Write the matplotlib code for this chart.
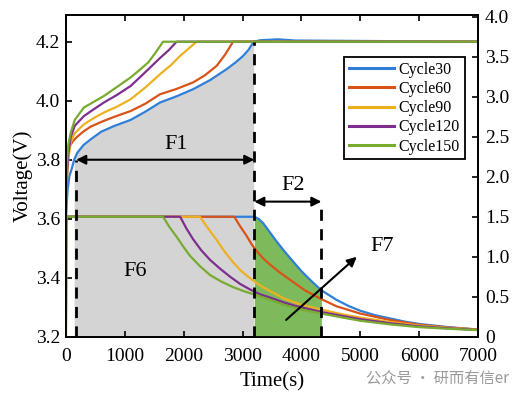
import numpy as np
import matplotlib.pyplot as plt

plt.rcParams['font.family'] = ['Liberation Serif', 'DejaVu Serif']
plt.rcParams['xtick.direction'] = 'in'
plt.rcParams['ytick.direction'] = 'in'

# charge voltage curves (time in s, voltage in V)
t30_v = [0, 10, 30, 60, 100, 140, 192, 300, 420, 600, 815, 1100, 1350, 1600, 1880, 2160, 2450,
         2730, 2870, 3000, 3100, 3190, 3300, 3600, 3900, 7000]
v30 = [3.58, 3.64, 3.70, 3.745, 3.77, 3.80, 3.823, 3.85, 3.869, 3.895, 3.914, 3.935, 3.963, 3.994,
       4.015, 4.039, 4.07, 4.107, 4.128, 4.15, 4.172, 4.2, 4.205, 4.208, 4.204, 4.2]
t60_v = [0, 10, 20, 40, 60, 120, 192, 300, 420, 600, 750, 900, 1100, 1350, 1600, 1880, 2160,
         2360, 2560, 2700, 2840, 7000]
v60 = [3.65, 3.76, 3.80, 3.83, 3.845, 3.863, 3.878, 3.896, 3.912, 3.928, 3.94, 3.951, 3.965, 3.99,
       4.022, 4.04, 4.062, 4.086, 4.118, 4.155, 4.2, 4.2]
t90_v = [0, 15, 40, 80, 150, 306, 480, 646, 870, 1100, 1350, 1600, 1780, 1940, 2080, 2220, 7000]
v90 = [3.62, 3.72, 3.80, 3.857, 3.89, 3.92, 3.942, 3.96, 3.98, 4.005, 4.045, 4.09, 4.12, 4.152,
       4.176, 4.2, 4.2]
t120_v = [0, 15, 40, 80, 150, 306, 480, 646, 870, 1100, 1350, 1600, 1750, 1880, 7000]
v120 = [3.62, 3.74, 3.82, 3.875, 3.915, 3.948, 3.972, 3.994, 4.02, 4.05, 4.097, 4.145, 4.172,
        4.2, 4.2]
t150_v = [0, 15, 40, 80, 150, 306, 480, 646, 870, 1100, 1250, 1400, 1530, 1650, 7000]
v150 = [3.62, 3.78, 3.85, 3.89, 3.935, 3.977, 3.997, 4.016, 4.047, 4.079, 4.104, 4.13, 4.165,
        4.2, 4.2]

# charge current curves (A)
t30_i = [0, 5, 3200, 3280, 3350, 3460, 3580, 3720, 3860, 4000, 4150, 4340, 4600, 4800, 5000,
         5250, 5500, 5750, 6000, 6500, 7000]
i30 = [0, 1.5, 1.5, 1.47, 1.42, 1.31, 1.19, 1.06, 0.94, 0.82, 0.71, 0.58, 0.46, 0.385, 0.325,
       0.27, 0.23, 0.19, 0.16, 0.12, 0.09]
t60_i = [0, 5, 2860, 2960, 3070, 3160, 3240, 3350, 3470, 3640, 3810, 4060, 4340, 4600, 5000,
         5500, 6000, 6500, 7000]
i60 = [0, 1.5, 1.5, 1.38, 1.26, 1.15, 1.07, 0.98, 0.9, 0.8, 0.71, 0.58, 0.47, 0.38, 0.29, 0.21,
       0.15, 0.115, 0.09]
t90_i = [0, 5, 2275, 2420, 2560, 2700, 2840, 2980, 3130, 3300, 3470, 3700, 4000, 4340, 4700,
         5000, 5500, 6000, 6500, 7000]
i90 = [0, 1.5, 1.5, 1.35, 1.21, 1.06, 0.93, 0.82, 0.73, 0.64, 0.57, 0.48, 0.40, 0.34, 0.28,
       0.24, 0.185, 0.14, 0.11, 0.09]
t120_i = [0, 5, 1940, 2050, 2160, 2300, 2450, 2620, 2790, 2960, 3130, 3300, 3470, 3700, 3900,
          4340, 4700, 5000, 5500, 6000, 6500, 7000]
i120 = [0, 1.5, 1.5, 1.35, 1.22, 1.08, 0.96, 0.85, 0.75, 0.66, 0.59, 0.53, 0.49, 0.43, 0.385,
        0.31, 0.26, 0.22, 0.17, 0.13, 0.105, 0.085]
t150_i = [0, 5, 1650, 1760, 1880, 2000, 2110, 2280, 2450, 2640, 2840, 3040, 3240, 3470, 3700,
          4000, 4340, 4700, 5000, 5500, 6000, 6500, 7000]
i150 = [0, 1.5, 1.5, 1.37, 1.25, 1.12, 1.01, 0.88, 0.77, 0.69, 0.62, 0.565, 0.52, 0.46, 0.40,
        0.34, 0.29, 0.24, 0.20, 0.155, 0.12, 0.1, 0.082]

labels = ['Cycle30', 'Cycle60', 'Cycle90', 'Cycle120', 'Cycle150']
colors = ['#2F7ED8', '#D95319', '#EDB120', '#7E2F8E', '#77AC30']

volt = [(t30_v, v30), (t60_v, v60), (t90_v, v90), (t120_v, v120), (t150_v, v150)]
curr = [(t30_i, i30), (t60_i, i60), (t90_i, i90), (t120_i, i120), (t150_i, i150)]

fig = plt.figure(figsize=(5.23, 3.99), dpi=100)
ax = fig.add_axes([0.126, 0.156, 0.788, 0.806])
ax2 = ax.twinx()

# shaded areas
tb = np.array(t30_v)
vb = np.array(v30)
m = (tb >= 140) & (tb <= 3190)
ax.fill_between(tb[m], 3.2, vb[m], color='#d4d4d4', lw=0, zorder=0)
tbi = np.array(t30_i)
ib = np.array(i30)
m2 = (tbi >= 3200) & (tbi <= 4340)
ax2.fill_between(tbi[m2], 0, ib[m2], color='#7dba5c', lw=0, zorder=0)

for (t, v), c, lab in zip(volt, colors, labels):
    ax.plot(t, v, color=c, lw=1.6, label=lab)
for (t, i), c in zip(curr, colors):
    ax2.plot(t, i, color=c, lw=1.6)

# dashed lines / arrows / labels
dk = dict(color='k', lw=2, ls=(0, (4, 3)), transform=ax.transData)
ax2.plot([175, 175], [3.2, 3.8], **dk)
ax2.plot([3200, 3200], [3.2, 4.2], **dk)
ax2.plot([4340, 4340], [3.2, 3.658], **dk)
ap = dict(arrowstyle='<|-|>', color='k', lw=1.5, mutation_scale=14, shrinkA=0, shrinkB=0)
ax2.annotate('', xy=(3200, 3.8), xytext=(175, 3.8), xycoords=ax.transData, textcoords=ax.transData, arrowprops=ap)
ax2.annotate('', xy=(4340, 3.658), xytext=(3200, 3.658), xycoords=ax.transData, textcoords=ax.transData, arrowprops=ap)
ax2.annotate('', xy=(4940, 3.471), xytext=(3740, 3.257), xycoords=ax.transData, textcoords=ax.transData,
             arrowprops=dict(arrowstyle='-|>', color='k', lw=1.5, mutation_scale=14, shrinkA=0, shrinkB=0))
tk = dict(transform=ax.transData, fontsize=16, ha='center', va='center')
ax2.text(1880, 3.853, 'F1', **tk)
ax2.text(3857, 3.711, 'F2', **tk)
ax2.text(1172, 3.42, 'F6', **tk)
ax2.text(5364, 3.505, 'F7', **tk)

ax.set_xlim(0, 7000)
ax.set_ylim(3.2, 4.29)
ax2.set_ylim(0, 4.02)
ax.set_xticks(np.arange(0, 7001, 1000))
ax.set_yticks([3.2, 3.4, 3.6, 3.8, 4.0, 4.2])
ax.set_yticklabels(['3.2', '3.4', '3.6', '3.8', '4.0', '4.2'])
ax2.set_yticks(np.arange(0, 4.01, 0.5))
ax2.set_yticklabels(['0', '0.5', '1.0', '1.5', '2.0', '2.5', '3.0', '3.5', '4.0'])
ax.tick_params(axis='x', top=True, labelsize=14, length=4, width=1.2, pad=8)
ax.tick_params(axis='y', labelsize=14, length=4, width=1.2, pad=4)
ax2.tick_params(axis='y', labelsize=14, length=4, width=1.2, pad=5)
for a in (ax, ax2):
    for s in a.spines.values():
        s.set_linewidth(1.3)
ax.set_xlabel('Time(s)', fontsize=15, labelpad=5)
ax.set_ylabel('Voltage(V)', fontsize=15, labelpad=2)

leg = ax2.legend(*ax.get_legend_handles_labels(), loc='upper right', bbox_to_anchor=(0.968, 0.87),
                 borderaxespad=0, fontsize=11.5, frameon=True, fancybox=False, edgecolor='k',
                 handlelength=2.8, borderpad=0.3, labelspacing=0.2, handletextpad=0.3)
leg.get_frame().set_linewidth(1.3)
leg.get_frame().set_alpha(1)
for h in leg.get_lines():
    h.set_linewidth(2.2)

fig.text(0.70, 0.052, '公众号 · 研而有信er', fontsize=11, color='#9a9a9a',
         family=['Noto Sans CJK SC', 'DejaVu Sans'], va='center')

fig.savefig('out.png', dpi=100)
